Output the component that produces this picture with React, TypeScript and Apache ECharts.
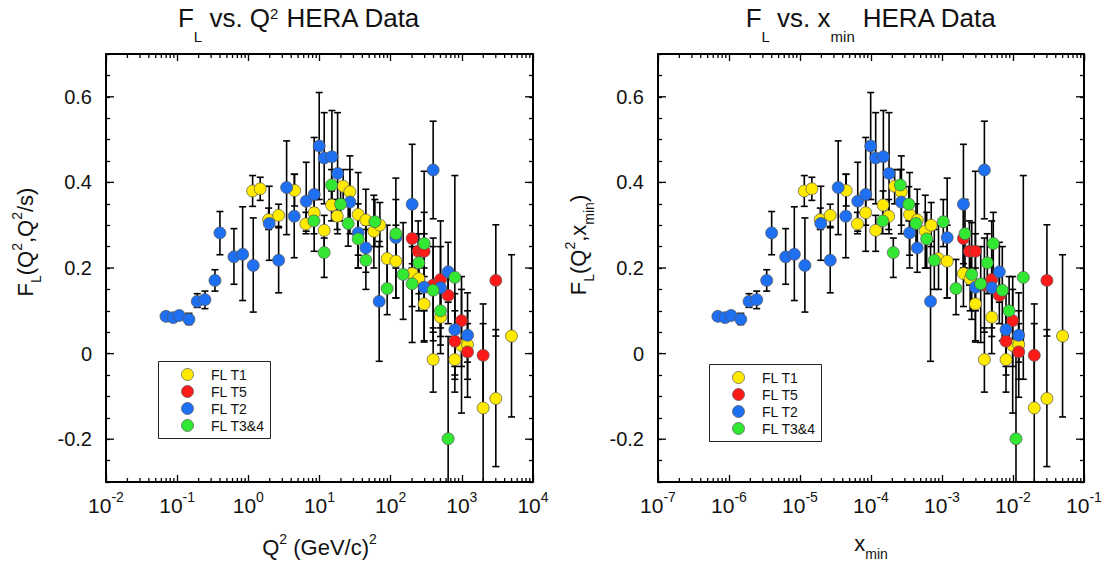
import React, { useEffect, useRef } from 'react';
import * as echarts from 'echarts';

const FONT = '"Liberation Sans", Arial, Helvetica, sans-serif';
const TXT = '#111111';

const seriesNames = ['FL T1', 'FL T5', 'FL T2', 'FL T3&4'];
const seriesColors = ['#FFEA00', '#FF1A1A', '#1F6FF2', '#33E833'];

// ---- FL T1 (yellow)
const t1Q2 = [1.149, 1.469, 1.928, 2.665, 4.47, 6.442, 8.424, 11.64, 14.79, 17.73, 21.52, 26.73, 34.96, 44.84, 58.07, 70.5, 89.3, 118.3, 200.4, 249, 295.5, 395.4, 502, 797.4, 990, 1203, 1992, 3003, 4989];
const t1Xmin = [1.149e-5, 1.469e-5, 1.928e-5, 2.665e-5, 4.47e-5, 6.442e-5, 8.424e-5, 1.164e-4, 1.479e-4, 1.773e-4, 2.152e-4, 2.673e-4, 3.496e-4, 4.484e-4, 5.807e-4, 7.05e-4, 8.93e-4, 1.183e-3, 2.004e-3, 2.49e-3, 2.955e-3, 3.954e-3, 5.02e-3, 7.974e-3, 9.9e-3, 1.203e-2, 1.992e-2, 3.003e-2, 4.989e-2];
const t1FL = [0.38, 0.385, 0.313, 0.323, 0.381, 0.303, 0.329, 0.288, 0.347, 0.321, 0.391, 0.378, 0.325, 0.312, 0.286, 0.3, 0.222, 0.216, 0.187, 0.175, 0.116, -0.014, 0.085, -0.014, 0.019, 0.021, -0.127, -0.105, 0.041];
const t1Lo = [0.344, 0.358, 0.29, 0.297, 0.345, 0.28, 0.3, 0.239, 0.31, 0.29, 0.35, 0.3, 0.23, 0.24, 0.2, 0.25, 0.15, 0.13, 0.11, 0.1, 0.027, -0.09, 0.0, -0.09, -0.139, -0.102, -0.324, -0.264, -0.148];
const t1Hi = [0.416, 0.412, 0.34, 0.349, 0.419, 0.33, 0.36, 0.323, 0.38, 0.36, 0.43, 0.462, 0.423, 0.384, 0.37, 0.353, 0.3, 0.3, 0.26, 0.25, 0.2, 0.06, 0.17, 0.06, 0.15, 0.142, 0.07, 0.056, 0.231];

// ---- FL T5 (red)
const t5Q2 = [200.4, 243.4, 295.5, 395.4, 502, 642.2, 797.4, 990, 1203, 1992, 3003];
const t5Xmin = [2.004e-3, 2.434e-3, 2.955e-3, 3.954e-3, 5.02e-3, 6.422e-3, 7.974e-3, 9.9e-3, 1.203e-2, 1.992e-2, 3.003e-2];
const t5FL = [0.269, 0.239, 0.239, 0.16, 0.173, 0.136, 0.029, 0.077, 0.004, -0.004, 0.171];
const t5Lo = [0.2, 0.16, 0.1, 0.05, 0.04, 0.07, -0.05, -0.03, -0.06, -0.124, 0.041];
const t5Hi = [0.34, 0.31, 0.426, 0.27, 0.31, 0.2, 0.1, 0.18, 0.07, 0.116, 0.301];

// ---- FL T2 (blue)
const t2Q2 = [0.0697, 0.0881, 0.107, 0.1465, 0.1915, 0.2457, 0.3396, 0.399, 0.628, 0.8316, 1.172, 1.966, 2.665, 3.451, 4.413, 6.505, 8.424, 9.9, 11.64, 14.94, 17.96, 26.73, 34.96, 44.84, 68.96, 118.3, 200.4, 295.5, 395.4, 502, 642.2, 797.4, 1203];
const t2Xmin = [6.97e-7, 8.81e-7, 1.07e-6, 1.465e-6, 1.915e-6, 2.457e-6, 3.396e-6, 3.99e-6, 6.28e-6, 8.316e-6, 1.172e-5, 1.966e-5, 2.665e-5, 3.451e-5, 4.413e-5, 6.505e-5, 8.424e-5, 9.9e-5, 1.164e-4, 1.494e-4, 1.796e-4, 2.673e-4, 3.496e-4, 4.484e-4, 6.896e-4, 1.183e-3, 2.004e-3, 2.955e-3, 3.954e-3, 5.02e-3, 6.422e-3, 7.974e-3, 1.203e-2];
const t2FL = [0.087, 0.084, 0.089, 0.08, 0.122, 0.126, 0.171, 0.282, 0.226, 0.232, 0.206, 0.304, 0.218, 0.388, 0.321, 0.356, 0.372, 0.485, 0.457, 0.46, 0.421, 0.354, 0.282, 0.247, 0.122, 0.271, 0.349, 0.155, 0.429, 0.154, 0.191, 0.056, 0.043];
const t2Lo = [0.08, 0.077, 0.082, 0.068, 0.108, 0.105, 0.146, 0.231, 0.162, 0.124, 0.097, 0.218, 0.142, 0.278, 0.224, 0.286, 0.239, 0.36, 0.35, 0.35, 0.28, 0.28, 0.2, 0.19, -0.018, 0.13, 0.21, 0.03, 0.315, 0.06, 0.12, -0.03, -0.02];
const t2Hi = [0.094, 0.091, 0.096, 0.094, 0.14, 0.146, 0.196, 0.332, 0.292, 0.343, 0.317, 0.391, 0.294, 0.497, 0.419, 0.447, 0.505, 0.61, 0.563, 0.568, 0.563, 0.43, 0.35, 0.3, 0.262, 0.41, 0.489, 0.28, 0.543, 0.25, 0.26, 0.14, 0.1];

// ---- FL T3&4 (green)
const t34Q2 = [8.34, 11.64, 14.79, 19.79, 25.3, 34.96, 44.84, 59.99, 89.3, 118.3, 149.8, 200.4, 249, 295.5, 395.4, 502, 642.2, 797.4];
const t34Xmin = [1.462e-4, 2.061e-4, 2.586e-4, 3.406e-4, 4.302e-4, 6.087e-4, 7.787e-4, 1.043e-3, 1.575e-3, 2.109e-3, 2.62e-3, 3.509e-3, 4.345e-3, 5.279e-3, 7.068e-3, 8.81e-3, 1.102e-2, 1.397e-2];
const t34FL = [0.31, 0.236, 0.394, 0.349, 0.304, 0.268, 0.218, 0.308, 0.152, 0.28, 0.185, 0.163, 0.212, 0.257, 0.148, 0.1, -0.199, 0.178];
const t34Lo = [0.28, 0.178, 0.36, 0.31, 0.251, 0.2, 0.15, 0.25, 0.091, 0.2, 0.08, 0.026, 0.14, 0.18, 0.03, 0.02, -0.44, -0.06];
const t34Hi = [0.34, 0.27, 0.43, 0.39, 0.35, 0.33, 0.29, 0.36, 0.22, 0.36, 0.306, 0.25, 0.28, 0.33, 0.25, 0.18, 0.04, 0.416];

// ---- axes
const yMin = -0.3;
const yMax = 0.7;
const yLabelValues = [-0.2, 0, 0.2, 0.4, 0.6];
const q2Range = [0.01, 10000];
const xminRange = [1e-7, 0.1];

const groups = [
  { q2: t1Q2, xmin: t1Xmin, fl: t1FL, lo: t1Lo, hi: t1Hi },
  { q2: t5Q2, xmin: t5Xmin, fl: t5FL, lo: t5Lo, hi: t5Hi },
  { q2: t2Q2, xmin: t2Xmin, fl: t2FL, lo: t2Lo, hi: t2Hi },
  { q2: t34Q2, xmin: t34Xmin, fl: t34FL, lo: t34Lo, hi: t34Hi },
];

const panels = [
  { key: 'q2', range: q2Range, left: 106, width: 427, legendLeft: 158, legendTop: 361 },
  { key: 'xmin', range: xminRange, left: 658, width: 426, legendLeft: 709, legendTop: 364 },
];

function minorLogTicks(lo: number, hi: number) {
  const out: number[][] = [];
  const d0 = Math.round(Math.log10(lo));
  const d1 = Math.round(Math.log10(hi));
  for (let d = d0; d < d1; d++) {
    for (let k = 2; k <= 9; k++) out.push([k * Math.pow(10, d), yMin]);
  }
  return out;
}

const tickStyle = { stroke: '#000', lineWidth: 1.3 };

function legendGraphic(left: number, top: number) {
  const children: any[] = [
    {
      type: 'rect',
      shape: { x: left + 0.5, y: top + 0.5, width: 112, height: 77 },
      style: { fill: '#fff', stroke: '#222', lineWidth: 1 },
    },
  ];
  seriesNames.forEach((name, k) => {
    const cy = top + 13.5 + k * 17;
    children.push({
      type: 'circle',
      shape: { cx: left + 29.5, cy, r: 6 },
      style: { fill: seriesColors[k], stroke: '#555', lineWidth: 0.7 },
    });
    children.push({
      type: 'text',
      x: left + 53,
      y: cy,
      style: {
        text: name,
        fontFamily: FONT,
        fontSize: 14,
        fill: TXT,
        align: 'left',
        verticalAlign: 'middle',
      },
    });
  });
  return { type: 'group', silent: true, children };
}

function buildOption() {
  const grid = panels.map((p) => ({ left: p.left, top: 54, width: p.width, height: 428, containLabel: false }));

  const xAxis: any[] = [];
  const yAxis: any[] = [];
  panels.forEach((p, i) => {
    ['bottom', 'top'].forEach((pos) => {
      xAxis.push({
        type: 'log',
        logBase: 10,
        gridIndex: i,
        position: pos,
        min: p.range[0],
        max: p.range[1],
        axisLine: { show: true, onZero: false, lineStyle: { color: '#000', width: 2 } },
        axisTick: { show: true, inside: true, length: 7, lineStyle: { color: '#000', width: 1.3 } },
        splitLine: { show: false },
        minorTick: { show: false },
        axisLabel:
          pos === 'bottom'
            ? {
                show: true,
                margin: 10,
                formatter: (v: number) => `{b|10}{s|${Math.round(Math.log10(v))}}`,
                rich: {
                  b: { fontFamily: FONT, fontSize: 21, lineHeight: 26, color: TXT },
                  s: { fontFamily: FONT, fontSize: 14, lineHeight: 26, color: TXT, padding: [0, 0, 16, 0] },
                },
              }
            : { show: false },
      });
    });
    ['left', 'right'].forEach((pos) => {
      yAxis.push({
        type: 'value',
        gridIndex: i,
        position: pos,
        min: yMin,
        max: yMax,
        interval: 0.05,
        axisLine: { show: true, onZero: false, lineStyle: { color: '#000', width: 2 } },
        axisTick: { show: true, inside: true, length: 4, lineStyle: { color: '#000', width: 1.3 } },
        splitLine: { show: false },
        axisLabel:
          pos === 'left'
            ? {
                show: true,
                margin: 14,
                fontFamily: FONT,
                fontSize: 20,
                color: TXT,
                formatter: (v: number) => {
                  const k = Math.round(v * 100);
                  if (k % 20 !== 0) return '';
                  return k === 0 ? '0' : String(k / 100);
                },
              }
            : { show: false },
      });
    });
  });

  const series: any[] = [];
  panels.forEach((p, i) => {
    const xi = i * 2;
    const yi = i * 2;
    // minor log ticks (bottom & top)
    series.push({
      type: 'custom',
      xAxisIndex: xi,
      yAxisIndex: yi,
      silent: true,
      clip: false,
      data: minorLogTicks(p.range[0], p.range[1]),
      encode: { x: 0, y: 1 },
      renderItem: (_params: any, api: any) => {
        const x = api.value(0);
        const b = api.coord([x, yMin]);
        const t = api.coord([x, yMax]);
        return {
          type: 'group',
          children: [
            { type: 'line', shape: { x1: b[0], y1: b[1], x2: b[0], y2: b[1] - 4 }, style: tickStyle },
            { type: 'line', shape: { x1: t[0], y1: t[1], x2: t[0], y2: t[1] + 4 }, style: tickStyle },
          ],
        };
      },
    });
    // major y ticks (left & right)
    series.push({
      type: 'custom',
      xAxisIndex: xi,
      yAxisIndex: yi,
      silent: true,
      clip: false,
      data: yLabelValues.map((v) => [p.range[0], v]),
      encode: { x: 0, y: 1 },
      renderItem: (_params: any, api: any) => {
        const y = api.value(1);
        const l = api.coord([p.range[0], y]);
        const r = api.coord([p.range[1], y]);
        return {
          type: 'group',
          children: [
            { type: 'line', shape: { x1: l[0], y1: l[1], x2: l[0] + 8, y2: l[1] }, style: tickStyle },
            { type: 'line', shape: { x1: r[0], y1: r[1], x2: r[0] - 8, y2: r[1] }, style: tickStyle },
          ],
        };
      },
    });
    // error bars
    groups.forEach((g) => {
      const xs = (g as any)[p.key] as number[];
      series.push({
        type: 'custom',
        xAxisIndex: xi,
        yAxisIndex: yi,
        silent: true,
        clip: true,
        z: 2,
        data: xs.map((x, j) => [x, g.lo[j], g.hi[j]]),
        encode: { x: 0, y: [1, 2] },
        renderItem: (_params: any, api: any) => {
          const x = api.value(0);
          const a = api.coord([x, api.value(1)]);
          const b = api.coord([x, api.value(2)]);
          const st = { stroke: '#000', lineWidth: 1.6 };
          return {
            type: 'group',
            children: [
              { type: 'line', shape: { x1: a[0], y1: a[1], x2: b[0], y2: b[1] }, style: st },
              { type: 'line', shape: { x1: a[0] - 3.5, y1: a[1], x2: a[0] + 3.5, y2: a[1] }, style: st },
              { type: 'line', shape: { x1: b[0] - 3.5, y1: b[1], x2: b[0] + 3.5, y2: b[1] }, style: st },
            ],
          };
        },
      });
    });
    // points
    groups.forEach((g, k) => {
      const xs = (g as any)[p.key] as number[];
      series.push({
        type: 'scatter',
        name: seriesNames[k],
        xAxisIndex: xi,
        yAxisIndex: yi,
        silent: true,
        z: 3,
        symbol: 'circle',
        symbolSize: 12,
        data: xs.map((x, j) => [x, g.fl[j]]),
        itemStyle: { color: seriesColors[k], borderColor: '#555', borderWidth: 0.7, opacity: 1 },
      });
    });
  });

  const base = (size: number, lh: number) => ({ fontFamily: FONT, fontSize: size, lineHeight: lh, color: TXT });
  const titleRich = {
    a: base(26, 30),
    sub: { ...base(15, 30), padding: [36, 0, 0, 0] },
    sup: { ...base(15, 30), padding: [0, 0, 10, 0] },
  };
  const nameRich = {
    a: base(22, 26),
    sub: { ...base(14, 26), padding: [22, 0, 0, 0] },
    sup: { ...base(14, 26), padding: [0, 0, 16, 0] },
  };
  const txt = (x: number, y: number, text: string, rich: any, rotation = 0) => ({
    type: 'text',
    x,
    y,
    rotation,
    silent: true,
    style: { text, rich, align: 'center', verticalAlign: 'middle', fontFamily: FONT, fill: TXT },
  });

  const graphic = [
    txt(299, 18, '{a|F}{sub|L}{a| vs. Q}{sup|2}{a| HERA Data}', titleRich),
    txt(871, 18, '{a|F}{sub|L}{a| vs. x}{sub|min}{a| HERA Data}', titleRich),
    txt(319.5, 547, '{a|Q}{sup|2}{a| (GeV/c)}{sup|2}', nameRich),
    txt(871, 543, '{a|x}{sub|min}', nameRich),
    txt(25, 242, '{a|F}{sub|L}{a|(Q}{sup|2}{a|,Q}{sup|2}{a|/s)}', nameRich, Math.PI / 2),
    txt(578, 245, '{a|F}{sub|L}{a|(Q}{sup|2}{a|,x}{sub|min}{a|)}', nameRich, Math.PI / 2),
    ...panels.map((p) => legendGraphic(p.legendLeft, p.legendTop)),
  ];

  return {
    animation: false,
    backgroundColor: '#fff',
    grid,
    xAxis,
    yAxis,
    graphic,
    series,
  };
}

export default function App() {
  const ref = useRef<HTMLDivElement>(null);
  useEffect(() => {
    const chart = echarts.init(ref.current as HTMLDivElement, null, { renderer: 'svg' });
    chart.setOption(buildOption() as any);
    return () => chart.dispose();
  }, []);
  return (
    <div
      ref={ref}
      style={{ position: 'fixed', left: 0, top: 0, width: 1106, height: 562, background: '#fff' }}
    />
  );
}
